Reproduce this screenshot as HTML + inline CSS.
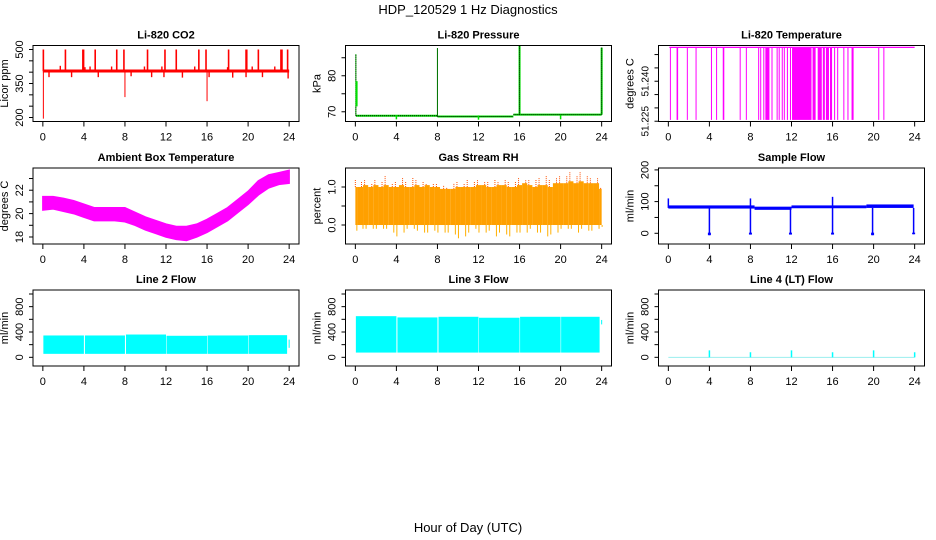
<!DOCTYPE html>
<html><head><meta charset="utf-8"><style>
html,body{margin:0;padding:0;background:#fff;}
svg{display:block;font-family:"Liberation Sans",Arial,sans-serif;}
</style></head><body>
<svg id="chart" width="936" height="540" viewBox="0 0 936 540" xmlns="http://www.w3.org/2000/svg">
<text x="468" y="14" font-size="13" text-anchor="middle">HDP_120529  1 Hz Diagnostics</text>
<text x="468" y="532" font-size="13" text-anchor="middle">Hour of Day (UTC)</text>
<g id="plots"></g>
</svg>
<script>
// ---- data ----
const xTicks = [0,4,8,12,16,20,24];
// CO2
const co2Base = 405;
const co2SpikeHours = [0.05,2.2,3.9,3.97,5.1,7.2,7.9,10.2,11.9,13.0,15.2,15.9,18.1,19.8,19.87,21.0,23.2,23.3,23.85];
const co2SpikeHigh = [500,500,500,500,500,500,500,500,500,500,500,500,500,500,500,500,500,500,500];
const co2DownHours = [0.05,8.0,16.0];
const co2DownLow = [195,290,272];
const co2MinorHours = [0.6,1.7,2.8,4.1,4.6,5.4,6.7,8.6,9.9,10.6,11.6,11.8,13.6,14.8,16.2,18.0,18.5,19.8,20.4,21.4,22.6,23.9];
const co2MinorVals = [378,428,378,422,425,378,425,382,425,378,425,378,376,425,378,422,376,378,425,378,425,372];
// Pressure
const pBaseStart = [0.05,8.0,15.4];
const pBaseEnd = [8.0,15.4,24.0];
const pBaseVal = [68.9,68.7,69.2];
const pSpikeHours = [0.05,8.0,16.0,24.0];
const pSpikeTop = [86.0,87.7,88.3,87.8];
const pDipHours = [4.0,12.0,20.0];
const pDipVals = [67.9,67.8,67.9];
// Li-820 temperature
const tTop = 51.2527;
const tBottom = 51.2255;
const tDropStart = [0.2,0.85,1.85,2.7,4.2,4.7,5.35,7.0,7.6,8.8,9.0,9.3,9.5,10.1,10.6,10.8,11.1,11.3,11.6,11.9,12.1,14.1,14.6,15.1,15.4,15.8,16.2,16.5,17.1,17.5,17.9,20.5,21.0];
const tDropEnd   = [0.25,1.0,1.9,2.75,4.3,4.75,5.5,7.05,7.65,8.85,9.05,9.4,9.9,10.15,10.65,10.9,11.15,11.35,11.7,12.0,14.0,14.4,15.0,15.3,15.7,16.0,16.25,16.55,17.15,17.6,18.1,20.6,21.05];
// Ambient box temperature
const ambHours = [0,1,2,3,4,5,6,7,8,9,10,11,12,13,14,15,16,17,18,19,20,21,22,23,24];
const ambLow  = [20.3,20.4,20.2,20.0,19.7,19.4,19.4,19.4,19.3,19.0,18.6,18.3,18.0,17.8,17.7,18.0,18.4,18.9,19.4,20.1,20.8,21.6,22.2,22.5,22.6];
const ambHigh = [21.45,21.45,21.3,21.1,20.8,20.5,20.5,20.5,20.5,20.1,19.7,19.4,19.1,18.9,18.9,19.1,19.5,20.0,20.5,21.2,21.9,22.8,23.3,23.5,23.7];
// Gas stream RH (half-hour bins)
const rhBodyTop = [1.0,1.0,1.05,1.0,1.05,1.0,1.05,1.0,1.0,1.05,1.0,1.0,1.05,1.0,1.05,1.0,1.0,0.95,0.95,0.95,1.0,1.0,1.0,1.0,1.05,1.05,1.0,1.0,1.05,1.05,1.0,1.0,1.05,1.1,1.05,1.0,1.05,1.05,1.0,1.1,1.1,1.1,1.15,1.1,1.15,1.1,1.1,1.1,0.95];
const rhPeak    = [1.2,1.15,1.2,1.1,1.2,1.15,1.3,1.1,1.15,1.25,1.15,1.25,1.2,1.15,1.1,1.1,1.1,1.05,1.0,1.1,1.15,1.1,1.2,1.15,1.2,1.15,1.15,1.2,1.15,1.2,1.15,1.15,1.25,1.2,1.2,1.2,1.25,1.3,1.2,1.25,1.3,1.3,1.4,1.3,1.4,1.3,1.25,1.25,1.0];
const rhDip     = [-0.15,-0.1,-0.1,-0.1,-0.1,-0.1,-0.1,-0.2,-0.3,-0.2,-0.1,-0.1,-0.15,-0.2,-0.2,-0.15,-0.2,-0.2,-0.2,-0.25,-0.35,-0.3,-0.2,-0.1,-0.2,-0.2,-0.15,-0.3,-0.2,-0.25,-0.3,-0.2,-0.2,-0.2,-0.1,-0.2,-0.2,-0.3,-0.25,-0.2,-0.1,-0.1,-0.1,-0.2,-0.1,-0.15,-0.15,-0.1,-0.05];
// Sample flow
const sfStart = [0.0,8.4,12.0,19.3];
const sfEnd = [8.4,12.0,19.3,23.9];
const sfLow = [78,74,79,80];
const sfHigh = [88,84,88,91];
const sfDipHours = [4.0,8.0,11.9,16.0,19.9,23.9];
const sfDipVals = [-6,-4,-4,-4,-6,-3];
const sfUpHours = [0.0,8.0,16.0];
const sfUpVals = [110,110,115];
// Line 2/3 flow
const l2Start = [0.05,4.1,8.1,12.05,16.05,20.05,23.95];
const l2End = [4.0,8.0,12.0,16.0,20.0,23.8,24.05];
const l2Low = [55,55,55,55,55,55,150];
const l2High = [345,345,360,340,345,350,280];
const l3Start = [0.05,4.1,8.1,12.05,16.05,20.05,23.95];
const l3End = [4.0,8.0,12.0,16.0,20.0,23.8,24.05];
const l3Low = [75,75,75,75,75,75,520];
const l3High = [650,630,640,625,640,640,590];
// Line 4 flow
const l4Base = 0;
const l4SpikeHours = [4,8,12,16,20,24];
const l4SpikeVals = [110,80,110,80,110,80];

// ---- layout ----
const NS = "http://www.w3.org/2000/svg";
const root = document.getElementById('plots');
const colLeft = [33, 345.5, 658.5];
const rowTop = [45.5, 168, 290];
const W = 266, H = 76;

function mk(tag, attrs, parent){
  const e = document.createElementNS(NS, tag);
  for (const k in attrs) e.setAttribute(k, attrs[k]);
  (parent||root).appendChild(e);
  return e;
}

function panel(col, row, title, ylab, ylo, yhi, yticks, ylabels, nm){
  const L = colLeft[col], T = rowTop[row];
  const g = mk('g', {});
  
  
  const xs = h => L + (h + 0.96) / 25.92 * W;
  const ys = v => T + H - (v - ylo) / (yhi - ylo) * H;
  const data = mk('g', {}, g);
  
  
  const box = mk('rect', {x:L, y:T, width:W, height:H, fill:'none', stroke:'#000', 'stroke-width':1}, g);
  
  
  const t = mk('text', {x:L+W/2, y:T-7, 'font-size':11, 'font-weight':'bold', 'text-anchor':'middle'}, g);
  t.textContent = title;
  
  
  const xa = mk('g', {stroke:'#000','stroke-width':1}, g);
  
  
  mk('line', {x1:xs(0), x2:xs(24), y1:T+H, y2:T+H}, xa);
  xTicks.forEach(v => {
    mk('line', {x1:xs(v), x2:xs(v), y1:T+H, y2:T+H+5}, xa);
    const tl = mk('text', {x:xs(v), y:T+H+19, 'font-size':11, 'text-anchor':'middle', stroke:'none'}, g);
    tl.textContent = v;
    
    
  });
  const ya = mk('g', {stroke:'#000','stroke-width':1}, g);
  
  
  mk('line', {x1:L, x2:L, y1:ys(yticks[0]), y2:ys(yticks[yticks.length-1])}, ya);
  yticks.forEach(v => mk('line', {x1:L-4, x2:L, y1:ys(v), y2:ys(v)}, ya));
  ylabels.forEach(v => {
    const y = ys(v), x = L - 10;
    const fs = nm==='li-temp' ? 10 : 11;
    const tl = mk('text', {x:x, y:y, 'font-size':fs, 'text-anchor':'middle', transform:`rotate(-90 ${x} ${y})`}, g);
    tl.textContent = (nm==='rh') ? v.toFixed(1) : (nm==='li-temp' ? v.toFixed(3) : v);
    
    
  });
  const yl = mk('text', {x:L-25, y:T+H/2, 'font-size':11, 'text-anchor':'middle', transform:`rotate(-90 ${L-25} ${T+H/2})`}, g);
  yl.textContent = ylab;
  
  
  return {xs, ys, g:data};
}

// CO2
(function(){
  const p = panel(0,0,'Li-820 CO2','Licor ppm',182.4,517.6,[200,250,300,350,400,450,500],[200,350,500],'co2');
  mk('line',{x1:p.xs(0),x2:p.xs(24),y1:p.ys(co2Base),y2:p.ys(co2Base),stroke:'#f00','stroke-width':3},p.g);
  co2SpikeHours.forEach((h,i)=>mk('line',{x1:p.xs(h),x2:p.xs(h),y1:p.ys(co2Base),y2:p.ys(co2SpikeHigh[i]),stroke:'#f00','stroke-width':1.6},p.g));
  co2DownHours.forEach((h,i)=>mk('line',{x1:p.xs(h),x2:p.xs(h),y1:p.ys(co2Base),y2:p.ys(co2DownLow[i]),stroke:'#f00','stroke-width':1},p.g));
  co2MinorHours.forEach((h,i)=>mk('line',{x1:p.xs(h),x2:p.xs(h),y1:p.ys(co2Base),y2:p.ys(co2MinorVals[i]),stroke:'#f00','stroke-width':1.4},p.g));
})();
// Pressure
(function(){
  const p = panel(1,0,'Li-820 Pressure','kPa',67.3,88.4,[70,75,80,85],[70,80],'pressure');
  pBaseStart.forEach((s,i)=>{
    mk('line',{x1:p.xs(s),x2:p.xs(pBaseEnd[i]),y1:p.ys(pBaseVal[i]),y2:p.ys(pBaseVal[i]),stroke:'#00e000','stroke-width':2},p.g);
    mk('line',{x1:p.xs(s),x2:p.xs(pBaseEnd[i]),y1:p.ys(pBaseVal[i]),y2:p.ys(pBaseVal[i]),stroke:'#000','stroke-width':1,'stroke-dasharray':'1 1'},p.g);
  });
  pSpikeHours.forEach((h,i)=>{
    mk('line',{x1:p.xs(h),x2:p.xs(h),y1:p.ys(pBaseVal[Math.min(i,2)]),y2:p.ys(pSpikeTop[i]),stroke:'#00e000','stroke-width':i>=2?2:1},p.g);
    mk('line',{x1:p.xs(h),x2:p.xs(h),y1:p.ys(pBaseVal[Math.min(i,2)]),y2:p.ys(pSpikeTop[i]),stroke:'#000','stroke-width':1,'stroke-dasharray':'1 1'},p.g);
  });
  mk('line',{x1:p.xs(0.12),x2:p.xs(0.12),y1:p.ys(71.5),y2:p.ys(78.5),stroke:'#00e000','stroke-width':2},p.g);
  pDipHours.forEach((h,i)=>mk('line',{x1:p.xs(h),x2:p.xs(h),y1:p.ys(69),y2:p.ys(pDipVals[i]),stroke:'#00e000','stroke-width':1.5},p.g));
})();
// Li-820 temperature
(function(){
  const p = panel(2,0,'Li-820 Temperature','degrees C',51.2249,51.2534,[51.225,51.230,51.235,51.240,51.245,51.250],[51.225,51.240],'li-temp');
  mk('line',{x1:p.xs(0.1),x2:p.xs(24),y1:p.ys(tTop),y2:p.ys(tTop),stroke:'#f0f','stroke-width':1.2},p.g);
  tDropStart.forEach((s,i)=>{
    const x1 = p.xs(s), x2 = p.xs(tDropEnd[i]);
    mk('rect',{x:x1-0.5,y:p.ys(tTop),width:Math.max(1,x2-x1),height:p.ys(tBottom)-p.ys(tTop),fill:'#f0f'},p.g);
  });
})();
// Ambient box temperature
(function(){
  const p = panel(0,1,'Ambient Box Temperature','degrees C',17.4,23.9,[18,19,20,21,22,23],[18,20,22],'ambient-temp');
  let d = '';
  ambHours.forEach((h,i)=>{ d += (i?'L':'M') + p.xs(h) + ' ' + p.ys(ambHigh[i]) + ' '; });
  for (let i=ambHours.length-1;i>=0;i--) d += 'L' + p.xs(ambHours[i]) + ' ' + p.ys(ambLow[i]) + ' ';
  mk('path',{d:d+'Z',fill:'#f0f',stroke:'#f0f','stroke-width':1.5},p.g);
})();
// Gas Stream RH
(function(){
  const p = panel(1,1,'Gas Stream RH','percent',-0.5,1.5,[0,0.5,1.0],[0.0,1.0],'rh');
  const n = rhBodyTop.length, bw = 24/(n-1);
  rhBodyTop.forEach((v,i)=>{
    const h0 = Math.max(0,i*bw - bw/2), h1 = Math.min(24, i*bw + bw/2);
    mk('rect',{x:p.xs(h0),y:p.ys(v),width:p.xs(h1)-p.xs(h0),height:p.ys(0)-p.ys(v),fill:'#ffa000'},p.g);
    const hc = i*bw + (i%2? 0.1 : -0.1);
    const xc = p.xs(Math.min(24,Math.max(0,hc)));
    mk('line',{x1:xc,x2:xc,y1:p.ys(v),y2:p.ys(rhPeak[i]),stroke:'#ff5000','stroke-width':1,'stroke-dasharray':'1 1'},p.g);
    mk('line',{x1:xc+1.5,x2:xc+1.5,y1:p.ys(0),y2:p.ys(rhDip[i]),stroke:'#ffb000','stroke-width':1},p.g);
  });
})();
// Sample flow
(function(){
  const p = panel(2,1,'Sample Flow','ml/min',-33.8,206,[0,50,100,150,200],[0,100,200],'sample-flow');
  sfStart.forEach((s,i)=>mk('rect',{x:p.xs(s),y:p.ys(sfHigh[i]),width:p.xs(sfEnd[i])-p.xs(s),height:p.ys(sfLow[i])-p.ys(sfHigh[i]),fill:'#00f'},p.g));
  sfDipHours.forEach((h,i)=>{
    mk('line',{x1:p.xs(h),x2:p.xs(h),y1:p.ys(80),y2:p.ys(sfDipVals[i]),stroke:'#00f','stroke-width':1.5},p.g);
    mk('rect',{x:p.xs(h)-1.5,y:p.ys(2),width:3,height:p.ys(sfDipVals[i])-p.ys(2),fill:'#00f'},p.g);
  });
  sfUpHours.forEach((h,i)=>mk('line',{x1:p.xs(h),x2:p.xs(h),y1:p.ys(80),y2:p.ys(sfUpVals[i]),stroke:'#00f','stroke-width':1.5},p.g));
})();
// Line flows
function bands(p, st, en, lo, hi){
  st.forEach((s,i)=>mk('rect',{x:p.xs(s),y:p.ys(hi[i]),width:p.xs(en[i])-p.xs(s),height:p.ys(lo[i])-p.ys(hi[i]),fill:'#0ff'},p.g));
}
(function(){
  const p = panel(0,2,'Line 2 Flow','ml/min',-137,1063,[0,200,400,600,800,1000],[0,400,800],'line2-flow');
  bands(p,l2Start,l2End,l2Low,l2High);
})();
(function(){
  const p = panel(1,2,'Line 3 Flow','ml/min',-137,1063,[0,200,400,600,800,1000],[0,400,800],'line3-flow');
  bands(p,l3Start,l3End,l3Low,l3High);
})();
(function(){
  const p = panel(2,2,'Line 4 (LT) Flow','ml/min',-137,1063,[0,200,400,600,800,1000],[0,400,800],'line4-flow');
  mk('line',{x1:p.xs(0),x2:p.xs(24),y1:p.ys(l4Base),y2:p.ys(l4Base),stroke:'#9ee',"stroke-width":1},p.g);
  l4SpikeHours.forEach((h,i)=>mk('line',{x1:p.xs(h),x2:p.xs(h),y1:p.ys(l4Base),y2:p.ys(l4SpikeVals[i]),stroke:'#0ff','stroke-width':1.5},p.g));
})();
</script>
</body></html>
